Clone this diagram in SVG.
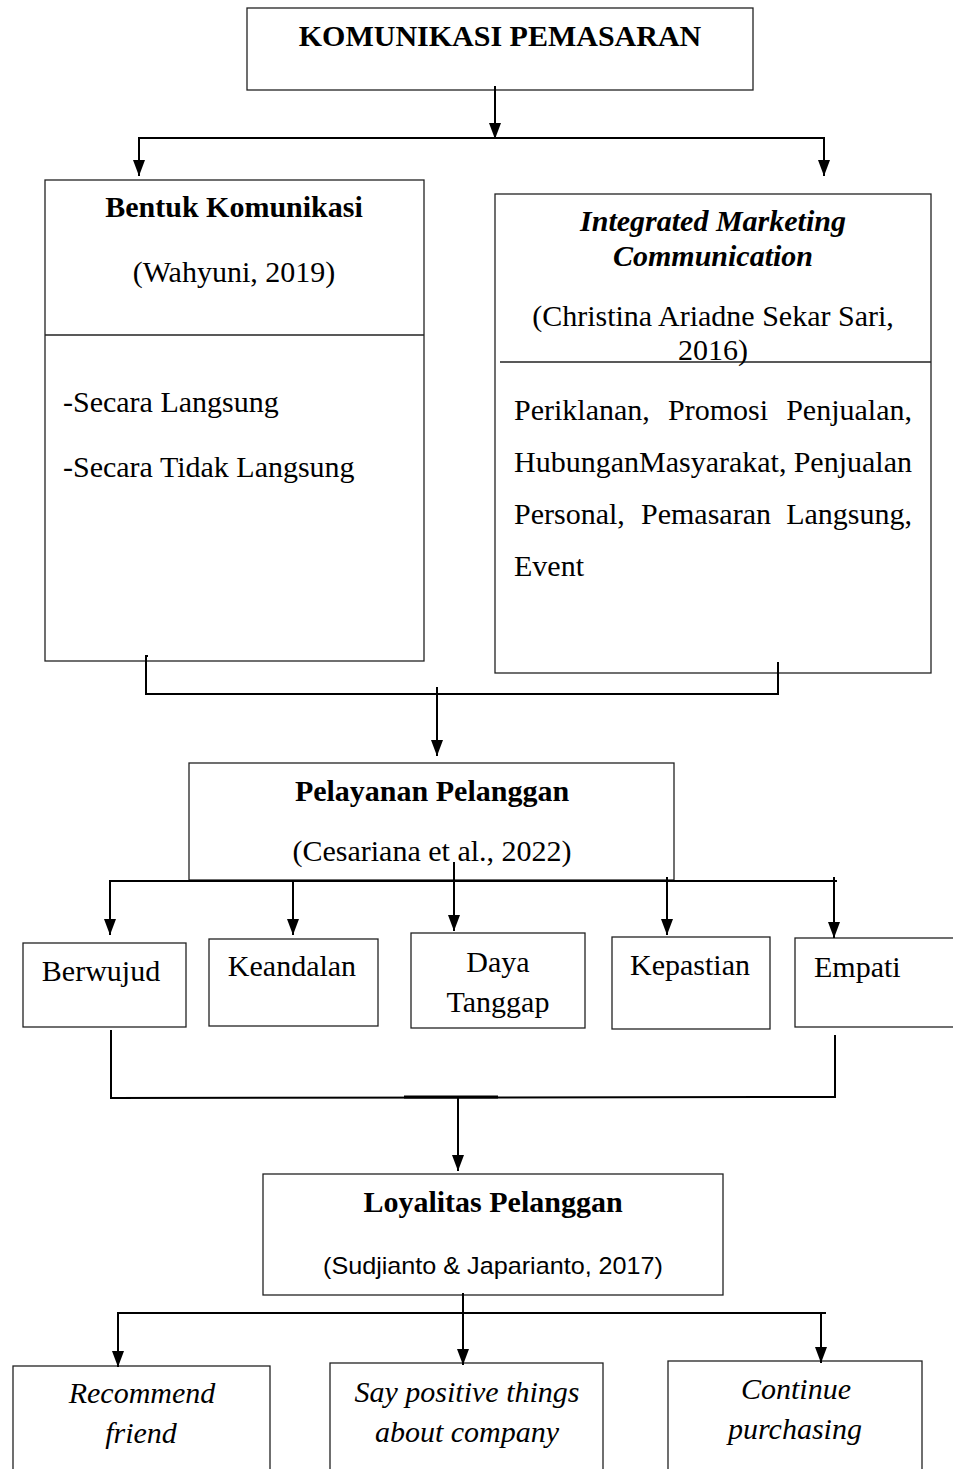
<svg xmlns="http://www.w3.org/2000/svg" width="953" height="1469" viewBox="0 0 953 1469">
<style>
.box{fill:#fff;stroke:#222;stroke-width:1.3}
.ln{fill:none;stroke:#000;stroke-width:2}
.t{font-family:"Liberation Serif","Times New Roman",serif;font-size:30px;fill:#000}
.b{font-weight:bold}
.i{font-style:italic}
.c{text-anchor:middle}
.s{font-family:"Liberation Sans",Arial,sans-serif;font-size:24px;fill:#000}
</style>
<defs>
<marker id="ah" viewBox="0 0 16 12" markerWidth="16" markerHeight="12" refX="16" refY="6" orient="auto" markerUnits="userSpaceOnUse">
<path d="M0,0 L16,6 L0,12 z" fill="#000"/>
</marker>
</defs>
<rect width="953" height="1469" fill="#fff"/>

<g id="komunikasi">
<rect class="box" x="247" y="8" width="506" height="82"/>
<text class="t b c" x="500" y="46">KOMUNIKASI PEMASARAN</text>
</g>

<g id="bentuk">
<rect class="box" x="45" y="180" width="379" height="481"/>
<line class="box" x1="45" y1="335" x2="424" y2="335"/>
<text class="t b c" x="234" y="217">Bentuk Komunikasi</text>
<text class="t c" x="234" y="282">(Wahyuni, 2019)</text>
<text class="t" x="63" y="412">-Secara Langsung</text>
<text class="t" x="63" y="477">-Secara Tidak Langsung</text>
</g>

<g id="imc">
<rect class="box" x="495" y="194" width="436" height="479"/>
<line class="box" x1="500" y1="362" x2="931" y2="362"/>
<text class="t b i c" x="713" y="231">Integrated Marketing</text>
<text class="t b i c" x="713" y="266">Communication</text>
<text class="t c" x="713" y="326">(Christina Ariadne Sekar Sari,</text>
<text class="t c" x="713" y="360">2016)</text>
<text class="t" x="514" y="420">Periklanan,</text>
<text class="t" x="668" y="420">Promosi</text>
<text class="t" x="912" y="420" text-anchor="end">Penjualan,</text>
<text class="t" x="514" y="472">HubunganMasyarakat,</text>
<text class="t" x="912" y="472" text-anchor="end">Penjualan</text>
<text class="t" x="514" y="524">Personal,</text>
<text class="t" x="641" y="524">Pemasaran</text>
<text class="t" x="912" y="524" text-anchor="end">Langsung,</text>
<text class="t" x="514" y="576">Event</text>
</g>

<g id="pelayanan">
<rect class="box" x="189" y="763" width="485" height="117"/>
<text class="t b c" x="432" y="801">Pelayanan Pelanggan</text>
<text class="t c" x="432" y="861">(Cesariana et al., 2022)</text>
</g>

<g id="berwujud">
<rect class="box" x="23" y="943" width="163" height="84"/>
<text class="t c" x="101" y="981">Berwujud</text>
</g>
<g id="keandalan">
<rect class="box" x="209" y="939" width="169" height="87"/>
<text class="t c" x="292" y="976">Keandalan</text>
</g>
<g id="dayatanggap">
<rect class="box" x="411" y="933" width="174" height="95"/>
<text class="t c" x="498" y="972">Daya</text>
<text class="t c" x="498" y="1012">Tanggap</text>
</g>
<g id="kepastian">
<rect class="box" x="612" y="937" width="158" height="92"/>
<text class="t c" x="690" y="975">Kepastian</text>
</g>
<g id="empati">
<rect class="box" x="795" y="938" width="170" height="89"/>
<text class="t" x="814" y="977">Empati</text>
</g>

<g id="loyalitas">
<rect class="box" x="263" y="1174" width="460" height="121"/>
<text class="t b c" x="493" y="1212">Loyalitas Pelanggan</text>
<text class="s c" x="493" y="1274" textLength="340" lengthAdjust="spacingAndGlyphs">(Sudjianto &amp; Japarianto, 2017)</text>
</g>

<g id="recommend">
<rect class="box" x="13" y="1366" width="257" height="120"/>
<text class="t i c" x="142" y="1403">Recommend</text>
<text class="t i c" x="141" y="1443">friend</text>
</g>
<g id="saypositive">
<rect class="box" x="330" y="1363" width="273" height="120"/>
<text class="t i c" x="467" y="1402">Say positive things</text>
<text class="t i c" x="467" y="1442">about company</text>
</g>
<g id="continue">
<rect class="box" x="668" y="1361" width="254" height="120"/>
<text class="t i c" x="796" y="1399">Continue</text>
<text class="t i c" x="795" y="1439">purchasing</text>
</g>

<g id="connectors">
<line class="ln" x1="495" y1="86" x2="495" y2="139" marker-end="url(#ah)"/>
<line class="ln" x1="138" y1="138" x2="825" y2="138"/>
<line class="ln" x1="139" y1="138" x2="139" y2="176" marker-end="url(#ah)"/>
<line class="ln" x1="824" y1="138" x2="824" y2="176" marker-end="url(#ah)"/>

<polyline class="ln" points="148,656 146,656 146,694 778,694 778,662"/>
<line class="ln" x1="437" y1="687" x2="437" y2="756" marker-end="url(#ah)"/>

<line class="ln" x1="109" y1="881" x2="837" y2="881"/>
<line class="ln" x1="110" y1="881" x2="110" y2="935" marker-end="url(#ah)"/>
<line class="ln" x1="293" y1="881" x2="293" y2="935" marker-end="url(#ah)"/>
<line class="ln" x1="454" y1="862" x2="454" y2="931" marker-end="url(#ah)"/>
<line class="ln" x1="667" y1="877" x2="667" y2="935" marker-end="url(#ah)"/>
<line class="ln" x1="834" y1="877" x2="834" y2="938" marker-end="url(#ah)"/>

<polyline class="ln" points="111,1030 111,1098 835,1097 835,1035"/>
<line stroke="#000" stroke-width="3" x1="404" y1="1097" x2="498" y2="1097"/>
<line class="ln" x1="458" y1="1097" x2="458" y2="1171" marker-end="url(#ah)"/>

<line class="ln" x1="117" y1="1313" x2="826" y2="1313"/>
<line class="ln" x1="118" y1="1313" x2="118" y2="1367" marker-end="url(#ah)"/>
<line class="ln" x1="463" y1="1293" x2="463" y2="1365" marker-end="url(#ah)"/>
<line class="ln" x1="821" y1="1313" x2="821" y2="1363" marker-end="url(#ah)"/>
</g>
</svg>
